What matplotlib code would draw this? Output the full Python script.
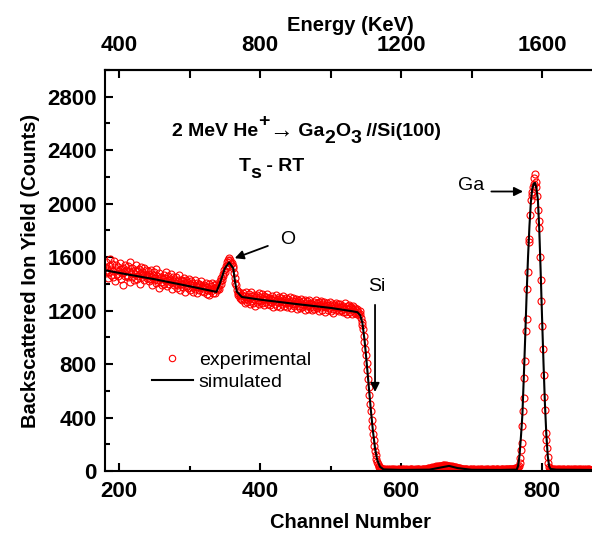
import numpy as np
import matplotlib

matplotlib.use("Agg")
import matplotlib.pyplot as plt
from matplotlib.lines import Line2D

plt.rcParams["font.family"] = ["Liberation Sans", "DejaVu Sans"]
plt.rcParams["font.weight"] = "bold"
plt.rcParams["axes.labelweight"] = "bold"

# ---- experimental spectrum, one value per channel (180..870) ----------------
exp_start = 180
exp_front = [  # 180-339
    1525, 1478, 1560, 1502, 1441, 1533, 1490, 1586, 1467, 1512, 1549, 1455, 1498, 1571, 1420, 1507, 1539, 1473, 1528, 1462,
    1495, 1553, 1436, 1509, 1478, 1521, 1390, 1488, 1540, 1457, 1502, 1469, 1531, 1448, 1493, 1560, 1415, 1480, 1517, 1452,
    1488, 1426, 1505, 1471, 1539, 1440, 1496, 1458, 1512, 1402, 1476, 1528, 1449, 1490, 1463, 1518, 1431, 1470, 1503, 1445,
    1462, 1498, 1418, 1475, 1437, 1506, 1452, 1389, 1468, 1430, 1491, 1443, 1510, 1405, 1459, 1426, 1482, 1371, 1447, 1414,
    1455, 1392, 1433, 1470, 1401, 1446, 1420, 1486, 1385, 1429, 1462, 1398, 1438, 1411, 1475, 1360, 1423, 1451, 1394, 1430,
    1409, 1448, 1372, 1426, 1390, 1465, 1401, 1353, 1432, 1397, 1419, 1378, 1444, 1406, 1340, 1428, 1385, 1415, 1369, 1437,
    1398, 1351, 1420, 1376, 1405, 1338, 1392, 1427, 1364, 1387, 1410, 1330, 1379, 1402, 1356, 1395, 1418, 1347, 1383, 1369,
    1392, 1341, 1374, 1408, 1326, 1380, 1357, 1399, 1318, 1362, 1385, 1349, 1403, 1335, 1371, 1390, 1328, 1366, 1398, 1352,
]
exp_o_peak = [  # 340-373
    1372, 1395, 1360, 1418, 1401, 1445, 1428, 1476, 1459, 1503, 1488, 1531, 1515, 1560, 1542, 1575, 1594,
    1566, 1580, 1548, 1557, 1521, 1532, 1478, 1446, 1410, 1388, 1356, 1335, 1318, 1342, 1296, 1312, 1285,
]
exp_plateau = [  # 374-541
    1318, 1276, 1331, 1290, 1254, 1312, 1339, 1267, 1301, 1283, 1325, 1246, 1296, 1342, 1271, 1308, 1259, 1320, 1287, 1233,
    1299, 1316, 1262, 1281, 1334, 1248, 1305, 1273, 1327, 1256, 1290, 1311, 1239, 1285, 1302, 1268, 1321, 1251, 1279, 1296,
    1243, 1288, 1264, 1307, 1230, 1276, 1298, 1252, 1316, 1269, 1237, 1284, 1261, 1303, 1225, 1275, 1292, 1248, 1266, 1310,
    1235, 1281, 1254, 1297, 1227, 1263, 1289, 1241, 1305, 1258, 1216, 1274, 1250, 1293, 1232, 1269, 1246, 1285, 1210, 1261,
    1279, 1238, 1266, 1221, 1290, 1252, 1229, 1271, 1244, 1208, 1283, 1256, 1233, 1269, 1215, 1248, 1276, 1226, 1259, 1201,
    1252, 1230, 1268, 1211, 1245, 1279, 1219, 1257, 1236, 1195, 1264, 1240, 1224, 1273, 1206, 1249, 1231, 1262, 1190, 1243,
    1227, 1258, 1203, 1244, 1221, 1267, 1198, 1236, 1250, 1212, 1183, 1241, 1226, 1259, 1205, 1233, 1218, 1252, 1194, 1229,
    1246, 1201, 1224, 1187, 1238, 1215, 1255, 1193, 1220, 1178, 1232, 1209, 1244, 1190, 1216, 1228, 1174, 1213, 1237, 1199,
    1222, 1185, 1207, 1171, 1213, 1190, 1164, 1198,
]
exp_si_edge = [  # 542-575
    1172, 1145, 1118, 1094, 1060, 1010, 968, 912, 870, 805, 752, 688, 630, 571, 502, 448, 385,
    330, 280, 231, 188, 150, 117, 90, 68, 52, 40, 31, 25, 20, 17, 14, 12, 11,
]
exp_background = [  # 576-764
    12, 9, 14, 10, 7, 13, 11, 8, 15, 10, 6, 12, 9, 14, 8, 11, 13, 7, 10, 12,
    9, 14, 8, 11, 6, 13, 10, 15, 9, 7, 12, 10, 14, 8, 11, 9, 13, 6, 12, 10,
    15, 8, 11, 13, 9, 7, 14, 10, 12, 8, 16, 11, 9, 13, 10, 15, 12, 9, 14, 11,
    17, 13, 20, 15, 22, 18, 25, 21, 28, 24, 30, 26, 33, 29, 35, 31, 38, 33, 36, 40,
    35, 41, 37, 43, 38, 42, 36, 44, 39, 41, 35, 40, 37, 33, 38, 31, 35, 29, 32, 27,
    30, 24, 27, 21, 25, 19, 22, 17, 20, 15, 18, 13, 16, 12, 14, 10, 13, 9, 15, 11,
    8, 12, 10, 14, 7, 11, 13, 9, 12, 6, 10, 14, 8, 11, 9, 13, 7, 12, 10, 15,
    9, 11, 8, 13, 10, 7, 12, 14, 9, 11, 6, 13, 10, 8, 12, 15, 9, 11, 13, 10,
    14, 9, 12, 8, 11, 13, 10, 15, 9, 12, 11, 14, 10, 13, 12, 16, 11, 14, 13, 17,
    12, 15, 14, 18, 16, 19, 17, 21, 19,
]
exp_ga_peak = [  # 765-812
    22, 30, 41, 57, 95, 157, 212, 339, 449, 544, 694, 826, 1048, 1135, 1360, 1490,
    1712, 1732, 1914, 2028, 2066, 2091, 2128, 2150, 2190, 2223, 2160, 2128, 2054, 1954,
    1867, 1821, 1604, 1430, 1272, 1088, 915, 721, 556, 456, 287, 232, 175, 107, 57, 30, 20, 15,
]
exp_tail = [  # 813-870
    13, 10, 14, 9, 12, 11, 8, 13, 10, 15, 9, 12, 7, 11, 14, 10, 8, 12, 13, 9,
    11, 7, 14, 10, 12, 8, 13, 9, 11, 15, 10, 6, 12, 9, 14, 11, 8, 13, 10, 12,
    9, 14, 8, 11, 13, 10, 7, 12, 9, 15, 11, 10, 13, 8, 12, 9, 11, 10,
]

# ---- simulated spectrum, read at key channels --------------------------------
sim_channel = [180, 200, 250, 300, 338, 343, 350, 356, 362, 364, 367, 374, 400, 450, 500, 530, 538,
               542, 545, 548, 551, 554, 557, 560, 563, 566, 570, 575, 600, 640, 655, 668, 680, 700,
               740, 760, 764, 766, 768, 770, 772, 774, 776, 778, 780, 782, 784, 786, 788, 790, 792,
               794, 796, 798, 800, 802, 804, 806, 808, 810, 812, 820, 870]
sim_counts = [1502, 1482, 1435, 1382, 1340, 1404, 1516, 1561, 1516, 1430, 1342, 1302, 1282, 1250, 1220, 1196, 1188,
              1165, 1110, 985, 820, 640, 460, 300, 170, 85, 32, 12, 8, 10, 25, 38, 22, 9,
              8, 10, 10, 40, 120, 260, 420, 700, 1000, 1320, 1600, 1830, 2010, 2110, 2150, 2156, 2110,
              2030, 1800, 1480, 1130, 800, 500, 270, 110, 35, 15, 10, 8]

channel_ticks = [200, 400, 600, 800]
energy_ticks = [400, 800, 1200, 1600]
energy_minor = [600, 1000, 1400]
count_ticks = [0, 400, 800, 1200, 1600, 2000, 2400, 2800]

exp_counts = exp_front + exp_o_peak + exp_plateau + exp_si_edge + exp_background + exp_ga_peak + exp_tail
exp_channel = np.arange(exp_start, exp_start + len(exp_counts))

W, H = 592, 537
fig = plt.figure(figsize=(W / 100, H / 100), dpi=100)
ax = fig.add_axes([105 / W, 66 / H, 490 / W, 401 / H])

ax.plot(exp_channel, exp_counts, ls="none", marker="o", ms=5.0, mfc="none",
        mec="#ff0000", mew=0.8)
ax.plot(sim_channel, sim_counts, color="black", lw=1.5)

ax.set_xlim(180, 875)
ax.set_ylim(0, 3000)
ax.set_xticks(channel_ticks)
ax.set_xticks(np.arange(300, 900, 200), minor=True)
ax.set_yticks(count_ticks)
ax.set_yticks(np.arange(200, 3001, 400), minor=True)
ax.tick_params(which="both", direction="in", width=1.5, labelsize=16, top=False, right=False)
ax.tick_params(which="major", length=6)
ax.tick_params(which="minor", length=3.5)
ax.tick_params(axis="x", pad=7)
ax.tick_params(axis="y", pad=6)
for s in ("left", "bottom", "top"):
    ax.spines[s].set_linewidth(1.5)
ax.spines["right"].set_visible(False)
ax.set_xlabel("Channel Number", fontsize=14.5, labelpad=8)
ax.set_ylabel("Backscattered Ion Yield (Counts)", fontsize=14.5, labelpad=5)

top = ax.secondary_xaxis("top", functions=(lambda c: 2 * c, lambda e: e / 2))
top.set_xticks(energy_ticks)
top.set_xticks(energy_minor, minor=True)
top.tick_params(which="both", direction="in", width=1.5, labelsize=16, pad=10)
top.tick_params(which="major", length=6)
top.tick_params(which="minor", length=6)
top.spines["top"].set_linewidth(1.5)
top.set_xlabel("Energy (KeV)", fontsize=14.5, labelpad=3, fontweight="bold")

# sample description, typeset piece by piece so the sub/superscripts stay large
fs = 14
t = ax.text(275, 2507, "2 MeV He", fontsize=fs)
t = ax.annotate("+", xy=(1, 0), xycoords=t, xytext=(0, 7), textcoords="offset points",
                fontsize=fs, va="bottom")
t = ax.annotate("\u2192", xy=(1, 0), xycoords=t, xytext=(0, -8), textcoords="offset points",
                fontsize=17, fontweight="normal", va="bottom")
t = ax.annotate(" Ga", xy=(1, 0), xycoords=t, xytext=(0, 1), textcoords="offset points",
                fontsize=fs, va="bottom")
t = ax.annotate("2", xy=(1, 0), xycoords=t, xytext=(0, -5), textcoords="offset points",
                fontsize=fs, va="bottom")
t = ax.annotate("O", xy=(1, 0), xycoords=t, xytext=(0, 5), textcoords="offset points",
                fontsize=fs, va="bottom")
t = ax.annotate("3", xy=(1, 0), xycoords=t, xytext=(0, -5), textcoords="offset points",
                fontsize=fs, va="bottom")
t = ax.annotate(" //Si(100)", xy=(1, 0), xycoords=t, xytext=(0, 5), textcoords="offset points",
                fontsize=fs, va="bottom")
t = ax.text(369, 2245, "T", fontsize=fs)
t = ax.annotate("s", xy=(1, 0), xycoords=t, xytext=(0, -5), textcoords="offset points",
                fontsize=fs, va="bottom")
ax.annotate(" - RT", xy=(1, 0), xycoords=t, xytext=(0, 5), textcoords="offset points",
            fontsize=fs, va="bottom")

arrow = dict(arrowstyle="-|>", color="black", lw=1.3, mutation_scale=13, shrinkA=0, shrinkB=0)
ax.annotate("", xy=(364, 1592), xytext=(411, 1684), arrowprops=arrow)
ax.text(439, 1729, "O", fontsize=14, fontweight="normal", ha="center", va="center")
ax.annotate("", xy=(563, 591), xytext=(563, 1243), arrowprops=arrow)
ax.text(566, 1377, "Si", fontsize=14, fontweight="normal", ha="center", va="center")
ax.annotate("", xy=(773, 2091), xytext=(728, 2091), arrowprops=arrow)
ax.text(700, 2133, "Ga", fontsize=14, fontweight="normal", ha="center", va="center")

handles = [
    Line2D([], [], ls="none", marker="o", ms=4.6, mfc="none", mec="#ff0000", mew=0.8),
    Line2D([], [], color="black", lw=1.5),
]
ax.legend(handles, ["experimental", "simulated"], loc="upper left",
          bbox_to_anchor=(47 / 490, 120 / 401), frameon=False, borderpad=0,
          borderaxespad=0, handlelength=2.1, handletextpad=0.3, labelspacing=0.25,
          prop={"size": 14, "weight": "normal"})

fig.savefig("out.png", dpi=100)
